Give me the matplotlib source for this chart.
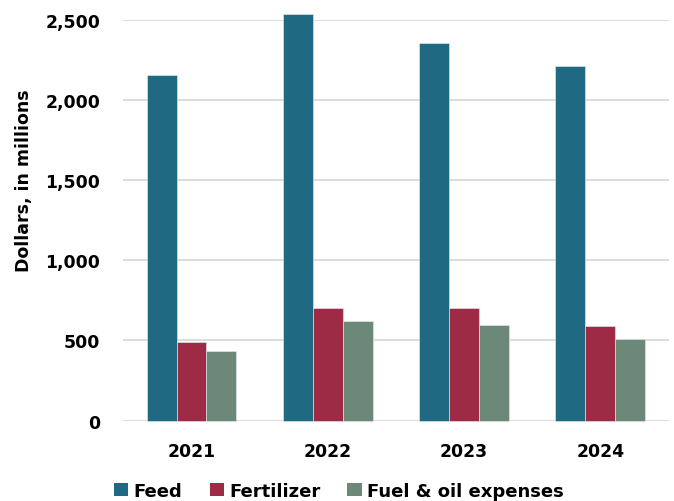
import matplotlib
matplotlib.use("Agg")
import matplotlib.pyplot as plt
import numpy as np
from matplotlib.patches import Patch

years = ["2021", "2022", "2023", "2024"]
feed = [2157, 2535, 2353, 2209]
fertilizer = [490, 704, 700, 588]
fuel_oil = [436, 623, 594, 509]
series_names = ["Feed", "Fertilizer", "Fuel & oil expenses"]
colors = ["#1F6A82", "#9E2B45", "#6C8878"]
yticks = [0, 500, 1000, 1500, 2000, 2500]

plt.rcParams["font.family"] = ["DejaVu Sans"]
plt.rcParams["font.weight"] = "bold"

fig = plt.figure(figsize=(6.74, 5.02), dpi=100)
ax = fig.add_axes([0.183, 0.1600, 0.809, 0.7988])

x = np.arange(len(years))
w = 0.22
for i, (vals, c) in enumerate(zip([feed, fertilizer, fuel_oil], colors)):
    ax.bar(x + (i - 1) * w, vals, width=w, color=c, edgecolor="#e8eef0",
           linewidth=0.4, zorder=3, clip_on=False)

ax.set_ylim(0, 2500)
ax.set_xlim(-0.5, 3.5)
ax.set_yticks(yticks)
ax.set_yticklabels([f"{v:,}" for v in yticks])
ax.set_xticks(x)
ax.set_xticklabels(years)
ax.tick_params(axis="both", length=0, labelsize=12.4)
ax.tick_params(axis="y", pad=16.5)
ax.tick_params(axis="x", pad=15)
for lab in ax.get_xticklabels() + ax.get_yticklabels():
    lab.set_fontweight("bold")
ax.grid(axis="y", color="#d9d9d9", linewidth=1.3, zorder=0)
for s in ax.spines.values():
    s.set_visible(False)

ax.set_ylabel("Dollars, in millions", fontsize=12.5, fontweight="bold")
ax.yaxis.set_label_coords(-0.166, 0.602)

handles = [Patch(facecolor=c, edgecolor="none") for c in colors]
fig.legend(handles, series_names, loc="center", bbox_to_anchor=(0.503, 0.02),
           ncol=3, frameon=False, handlelength=0.78,
           handleheight=0.78, handletextpad=0.3, columnspacing=1.5,
           prop={"weight": "bold", "size": 13.0})

fig.savefig("out.png", dpi=100)
